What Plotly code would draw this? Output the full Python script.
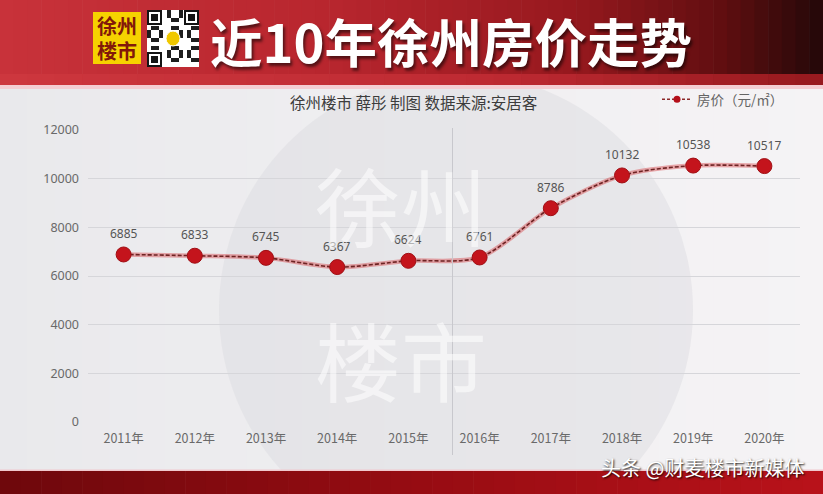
import plotly.graph_objects as go

# ---------------- data ----------------
years = ["2011年", "2012年", "2013年", "2014年", "2015年",
         "2016年", "2017年", "2018年", "2019年", "2020年"]
prices = [6885, 6833, 6745, 6367, 6624, 6761, 8786, 10132, 10538, 10517]
y_ticks = [0, 2000, 4000, 6000, 8000, 10000, 12000]
series_name = "房价（元/㎡）"
chart_title = "徐州楼市 薛彤 制图 数据来源:安居客"
header_title = "近10年徐州房价走势"
footer_text = "头条 @财麦楼市新媒体"

# ---------------- geometry ----------------
W, H = 823, 494
L, R, T, B = 88, 23, 130, 72
PW, PH = W - L - R, H - T - B


def px(x):
    return (x - L) / PW


def py(y):
    return (H - B - y) / PH


def lerp_color(stops, t):
    for i in range(len(stops) - 1):
        t0, c0 = stops[i]
        t1, c1 = stops[i + 1]
        if t0 <= t <= t1:
            f = (t - t0) / (t1 - t0) if t1 > t0 else 0
            c = [round(c0[k] + (c1[k] - c0[k]) * f) for k in range(3)]
            return "rgb(%d,%d,%d)" % tuple(c)
    c = stops[-1][1]
    return "rgb(%d,%d,%d)" % tuple(c)


shapes = []


def rect(x0, y0, x1, y1, color, layer="below"):
    shapes.append(dict(type="rect", xref="paper", yref="paper",
                       x0=px(x0), x1=px(x1), y0=py(y1), y1=py(y0),
                       fillcolor=color, line=dict(width=0), layer=layer))


# chart background (light gray gradient)
bg_stops = [(0, (233, 233, 236)), (0.5, (240, 239, 241)), (1, (245, 243, 245))]
N = 30
for i in range(N):
    x0 = W * i / N
    x1 = W * (i + 1) / N + 0.6
    rect(x0, 86, x1, 472, lerp_color(bg_stops, (i + 0.5) / N))

# big faint circle watermark
cx, cy, r = 456, 310, 237
shapes.append(dict(type="circle", xref="paper", yref="paper",
                   x0=px(cx - r), x1=px(cx + r), y0=py(cy + r), y1=py(cy - r),
                   fillcolor="rgba(218,218,222,0.42)", line=dict(width=0),
                   layer="below"))

# header gradient
hdr_stops = [(0, (200, 50, 58)), (0.4, (184, 38, 46)), (0.7, (150, 24, 30)),
             (0.88, (95, 14, 16)), (1, (35, 8, 8))]
N = 60
for i in range(N):
    x0 = W * i / N
    x1 = W * (i + 1) / N + 0.6
    rect(x0, 0, x1, 86, lerp_color(hdr_stops, (i + 0.5) / N))
# lower reddish band in header
N = 30
low_stops = [(0, (205, 55, 62)), (0.6, (190, 42, 50)), (1, (150, 25, 30))]
for i in range(N):
    x0 = W * i / N
    x1 = W * (i + 1) / N + 0.6
    rect(x0, 74, x1, 86, lerp_color(low_stops, (i + 0.5) / N))
# pink stripe
rect(0, 85, W, 89, "rgb(244,205,210)")

# footer gradient
ftr_stops = [(0, (110, 8, 12)), (0.5, (150, 12, 18)), (1, (185, 18, 26))]
N = 40
for i in range(N):
    x0 = W * i / N
    x1 = W * (i + 1) / N + 0.6
    rect(x0, 471, x1, H + 2, lerp_color(ftr_stops, (i + 0.5) / N))
rect(0, 469.5, W, 471, "rgb(240,200,205)")

# yellow logo box
rect(93, 12, 141, 64, "rgb(246,210,0)")

# QR code block
qx0, qy0, qw, qh = 147, 10, 52, 57
rect(qx0, qy0, qx0 + qw, qy0 + qh, "white")
mod = 4
for gx in range(13):
    for gy in range(14):
        in_tl = gx < 4 and gy < 4
        in_tr = gx > 8 and gy < 4
        in_bl = gx < 4 and gy > 9
        in_c = 5 <= gx <= 7 and 5 <= gy <= 8
        if in_tl or in_tr or in_bl or in_c:
            continue
        if (gx * 7 + gy * 11 + gx * gy) % 5 < 2:
            rect(qx0 + gx * mod, qy0 + gy * mod, qx0 + gx * mod + mod, qy0 + gy * mod + mod,
                 "rgb(30,30,30)")
for (fx, fy) in [(qx0, qy0), (qx0 + qw - 15, qy0), (qx0, qy0 + qh - 15)]:
    rect(fx, fy, fx + 15, fy + 15, "rgb(20,20,20)")
    rect(fx + 2, fy + 2, fx + 13, fy + 13, "white")
    rect(fx + 4, fy + 4, fx + 11, fy + 11, "rgb(20,20,20)")
shapes.append(dict(type="circle", xref="paper", yref="paper",
                   x0=px(qx0 + 19), x1=px(qx0 + 33), y0=py(qy0 + 36), y1=py(qy0 + 21),
                   fillcolor="rgb(240,200,0)", line=dict(width=1, color="white"),
                   layer="below"))

# vertical guide line
shapes.append(dict(type="line", xref="paper", yref="paper",
                   x0=px(452.5), x1=px(452.5), y0=py(455), y1=py(128),
                   line=dict(color="rgb(200,200,205)", width=1), layer="above"))

# ---------------- figure ----------------
fig = go.Figure()

# halo under the line
fig.add_trace(go.Scatter(x=years, y=prices, mode="lines",
                         line=dict(color="rgba(215,70,75,0.45)", width=4.5,
                                   shape="spline", smoothing=0.8),
                         hoverinfo="skip", showlegend=False))
# dashed line
fig.add_trace(go.Scatter(x=years, y=prices, mode="lines",
                         line=dict(color="rgb(110,35,35)", width=1.6, dash="4px,2px",
                                   shape="spline", smoothing=0.8),
                         hoverinfo="skip", showlegend=False))
# markers
fig.add_trace(go.Scatter(x=years, y=prices, mode="markers",
                         marker=dict(size=15, color="rgb(196,20,28)",
                                     line=dict(color="rgb(160,15,20)", width=1)),
                         showlegend=False, name=series_name))
# legend entry
fig.add_trace(go.Scatter(x=[None], y=[None], mode="lines+markers", name=series_name,
                         line=dict(color="rgb(140,40,40)", width=1.5, dash="3px,2px"),
                         marker=dict(size=7, color="rgb(180,15,25)")))

annotations = []
for yr, v in zip(years, prices):
    annotations.append(dict(x=yr, y=v, xref="x", yref="y", text=str(v),
                            showarrow=False, yshift=21,
                            font=dict(size=12, color="rgb(85,85,85)", family="Noto Sans")))


def ptxt(x, y, text, font):
    return dict(x=px(x), y=py(y), xref="paper", yref="paper", text=text,
                xanchor="center", yanchor="middle", showarrow=False, font=font)


annotations += [
    ptxt(413, 102, chart_title,
         dict(size=15.5, color="rgb(60,60,60)", family="Noto Sans CJK SC")),
    ptxt(451, 40, "<b>%s</b>" % header_title,
         dict(size=52.5, color="white", family="Noto Sans CJK SC",
              shadow="2px 3px 3px rgba(0,0,0,0.55)")),
    ptxt(117, 26, "<b>徐州</b>",
         dict(size=20, color="rgb(130,25,10)", family="Noto Sans CJK SC")),
    ptxt(117, 50, "<b>楼市</b>",
         dict(size=20, color="rgb(130,25,10)", family="Noto Sans CJK SC")),
    ptxt(401, 203, "徐州",
         dict(size=86, color="rgba(255,255,255,0.55)", family="Noto Sans CJK SC")),
    ptxt(401, 358, "楼市",
         dict(size=86, color="rgba(255,255,255,0.55)", family="Noto Sans CJK SC")),
    ptxt(702, 467, footer_text,
         dict(size=20, color="white", family="Noto Sans CJK SC",
              shadow="1px 1px 2px rgba(0,0,0,0.9)")),
]

fig.update_layout(
    width=W, height=H,
    margin=dict(l=L, r=R, t=T, b=B, pad=0, autoexpand=False),
    paper_bgcolor="rgb(238,238,240)",
    plot_bgcolor="rgba(0,0,0,0)",
    shapes=shapes,
    annotations=annotations,
    showlegend=True,
    legend=dict(xref="container", yref="container", x=657 / W, y=1 - 84 / H,
                xanchor="left", yanchor="top", bgcolor="rgba(0,0,0,0)",
                font=dict(size=13.5, color="rgb(100,100,100)", family="Noto Sans CJK SC"),
                itemwidth=30),
    xaxis=dict(type="category", range=[-0.5, 9.5], showgrid=False, zeroline=False,
               showline=False, ticks="", ticklabelstandoff=7,
               tickfont=dict(size=12.5, color="rgb(105,105,105)", family="Noto Sans CJK SC"),
               fixedrange=True),
    yaxis=dict(range=[0, 12000], tickvals=y_ticks, ticktext=[str(v) for v in y_ticks],
               showgrid=True,
               gridcolor="rgb(214,214,218)", gridwidth=1, zeroline=False,
               showline=False, ticks="", ticklabelstandoff=8,
               tickfont=dict(size=12.5, color="rgb(105,105,105)", family="Noto Sans"),
               fixedrange=True),
)

fig.write_html("out.html", config={"displayModeBar": False},
               post_script="document.body.style.margin='0';document.body.style.overflow='hidden';")
